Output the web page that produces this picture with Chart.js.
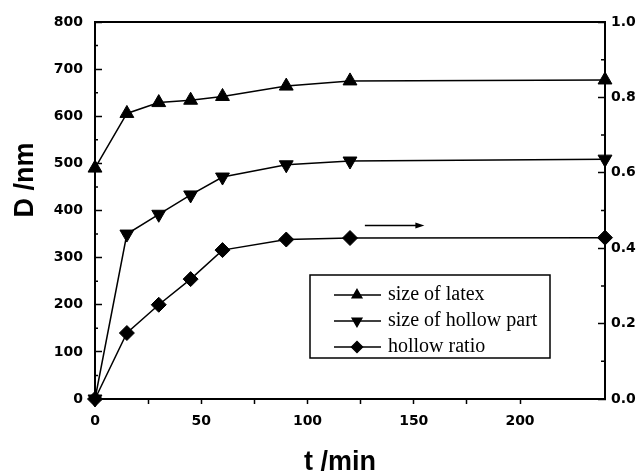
<!DOCTYPE html>
<html>
<head>
<meta charset="utf-8">
<script src="https://cdn.jsdelivr.net/npm/chart.js@4.4.0/dist/chart.umd.min.js"></script>
<style>
  html, body { margin: 0; padding: 0; background: #fff; }
  canvas { display: block; }
</style>
</head>
<body>
<canvas id="chart" width="638" height="474"></canvas>
<script>
// reaction time (min) and the measured values
const times = [0, 15, 30, 45, 60, 90, 120, 240];
const latexSize = [490, 606, 629, 634, 642, 664, 675, 677];
const hollowSize = [0, 350, 392, 433, 471, 497, 505, 509];
const hollowRatio = [0, 0.175, 0.25, 0.318, 0.395, 0.423, 0.427, 0.428];
const seriesNames = ['size of latex', 'size of hollow part', 'hollow ratio'];
const xTitle = 't /min';
const yTitle = 'D /nm';

const tickFont = { family: 'DejaVu Sans', size: 14, weight: 'bold' };
const toPoints = vals => vals.map((v, i) => ({ x: times[i], y: v }));

// frame, minor ticks, axis titles, arrow and the line+marker legend
const extras = {
    id: 'extras',
    afterDraw(chart) {
        const ctx = chart.ctx;
        const area = chart.chartArea;
        const { x: xs, y: ys, y2 } = chart.scales;
        ctx.save();
        ctx.strokeStyle = '#000';
        ctx.fillStyle = '#000';

        // top frame line
        ctx.lineWidth = 2;
        ctx.beginPath();
        ctx.moveTo(area.left, area.top);
        ctx.lineTo(area.right, area.top);
        ctx.stroke();

        // short inward minor ticks on both vertical axes
        ctx.lineWidth = 1.5;
        ctx.beginPath();
        for (let v = 50; v < 800; v += 100) {
            const py = ys.getPixelForValue(v);
            ctx.moveTo(area.left, py);
            ctx.lineTo(area.left + 3, py);
        }
        for (let v = 0.1; v < 1; v += 0.2) {
            const py = y2.getPixelForValue(v);
            ctx.moveTo(area.right, py);
            ctx.lineTo(area.right - 4, py);
        }
        ctx.stroke();

        // axis titles
        ctx.font = 'bold 27px "Liberation Sans"';
        ctx.textAlign = 'center';
        ctx.textBaseline = 'alphabetic';
        ctx.fillText(xTitle, 340, 470);
        ctx.save();
        ctx.translate(33, 180);
        ctx.rotate(-Math.PI / 2);
        ctx.fillText(yTitle, 0, 0);
        ctx.restore();

        // arrow -> right axis
        const ay = y2.getPixelForValue(0.46);
        const ax0 = xs.getPixelForValue(127), ax1 = xs.getPixelForValue(155);
        ctx.lineWidth = 1.5;
        ctx.beginPath();
        ctx.moveTo(ax0, ay);
        ctx.lineTo(ax1 - 6, ay);
        ctx.stroke();
        ctx.beginPath();
        ctx.moveTo(ax1, ay);
        ctx.lineTo(ax1 - 9, ay - 3);
        ctx.lineTo(ax1 - 9, ay + 3);
        ctx.closePath();
        ctx.fill();

        // legend box
        const bx = 310, by = 275, bw = 240, bh = 83;
        ctx.lineWidth = 1.5;
        ctx.strokeRect(bx, by, bw, bh);
        ctx.font = '20px "Liberation Serif"';
        ctx.textAlign = 'left';
        ctx.textBaseline = 'middle';
        chart.data.datasets.forEach((ds, i) => {
            const y = by + 20 + i * 26;
            ctx.lineWidth = 1.5;
            ctx.beginPath();
            ctx.moveTo(bx + 24, y);
            ctx.lineTo(bx + 71, y);
            ctx.stroke();
            Chart.helpers.drawPoint(ctx, {
                pointStyle: ds.pointStyle,
                rotation: ds.pointRotation || 0,
                radius: 5.5,
                borderWidth: 1
            }, bx + 47, y);
            ctx.fillText(seriesNames[i], bx + 78, y);
        });
        ctx.restore();
    }
};

// fixed widths and no extra label padding above/below the vertical axes
const fixVertical = w => s => {
    s.width = w;
    s.paddingTop = 8;
    s.paddingBottom = 8;
};

new Chart(document.getElementById('chart'), {
    type: 'line',
    data: {
        datasets: [
            {
                label: seriesNames[0],
                data: toPoints(latexSize),
                yAxisID: 'y',
                pointStyle: 'triangle',
                pointRadius: 8
            },
            {
                label: seriesNames[1],
                data: toPoints(hollowSize),
                yAxisID: 'y',
                pointStyle: 'triangle',
                pointRotation: 180,
                pointRadius: 8
            },
            {
                label: seriesNames[2],
                data: toPoints(hollowRatio),
                yAxisID: 'y2',
                pointStyle: 'rectRot',
                pointRadius: 7.5
            }
        ].map(ds => Object.assign({
            borderColor: '#000',
            backgroundColor: '#000',
            pointBackgroundColor: '#000',
            pointBorderColor: '#000',
            borderWidth: 1.5,
            pointBorderWidth: 1,
            tension: 0,
            clip: false
        }, ds))
    },
    options: {
        responsive: false,
        animation: false,
        layout: { padding: { top: 22, left: 0, right: 0, bottom: 0 } },
        plugins: { legend: { display: false }, tooltip: { enabled: false } },
        scales: {
            x: {
                type: 'linear',
                min: 0,
                max: 240,
                afterBuildTicks: s => { s.ticks = s.ticks.filter(t => t.value % 25 === 0); },
                afterFit: s => { s.height = 75; },
                ticks: {
                    stepSize: 25,
                    color: '#000',
                    font: tickFont,
                    padding: 9,
                    maxRotation: 0,
                    autoSkip: false,
                    callback: v => (v % 50 === 0 ? String(v) : '')
                },
                grid: { drawOnChartArea: false, drawTicks: true, tickLength: 5, tickColor: '#000', tickWidth: 1.5 },
                border: { color: '#000', width: 2 }
            },
            y: {
                position: 'left',
                min: 0,
                max: 800,
                afterFit: fixVertical(95),
                ticks: { stepSize: 100, color: '#000', font: tickFont, padding: 19 },
                grid: { drawOnChartArea: false, drawTicks: true, tickLength: -7, tickColor: '#000', tickWidth: 1.5 },
                border: { color: '#000', width: 2 }
            },
            y2: {
                position: 'right',
                min: 0,
                max: 1,
                afterFit: fixVertical(33),
                ticks: {
                    stepSize: 0.2,
                    color: '#000',
                    font: tickFont,
                    padding: 13,
                    callback: v => v.toFixed(1)
                },
                grid: { drawOnChartArea: false, drawTicks: true, tickLength: -7, tickColor: '#000', tickWidth: 1.5 },
                border: { color: '#000', width: 2 }
            }
        }
    },
    plugins: [extras]
});
</script>
</body>
</html>
